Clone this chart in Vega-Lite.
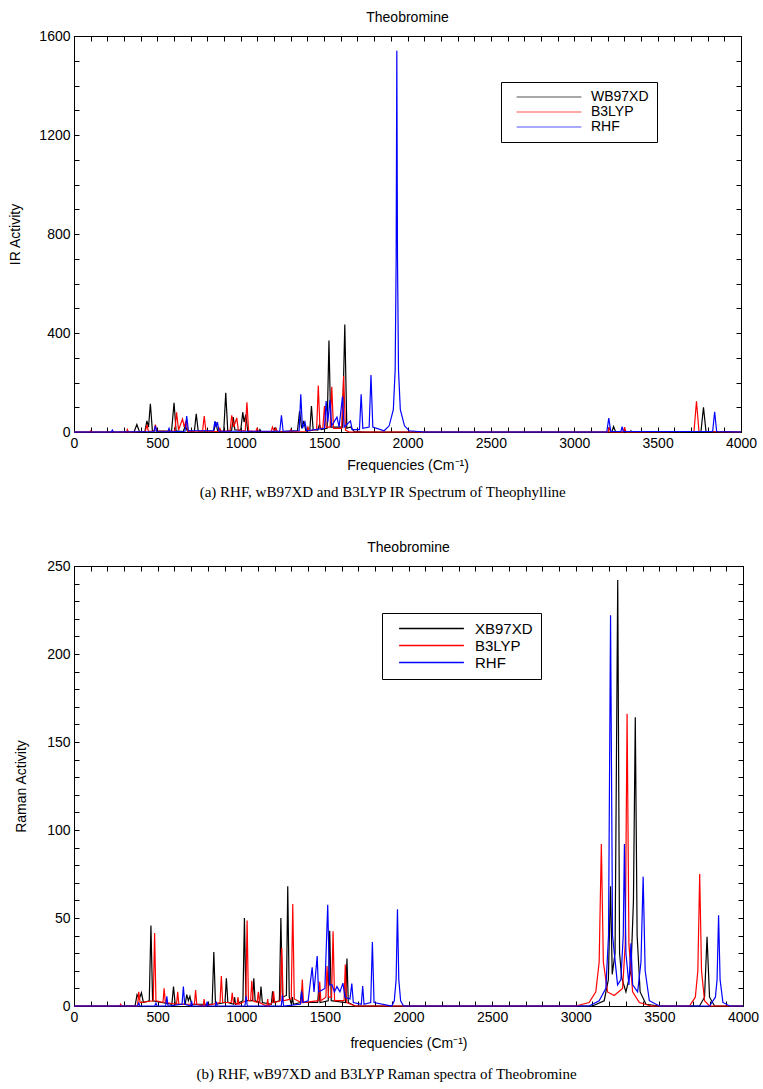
{
  "$schema": "https://vega.github.io/schema/vega-lite/v6.json",
  "padding": {"top": 10, "left": 8, "right": 5, "bottom": 5},
  "spacing": 40,
  "resolve": {"scale": {"color": "independent"}, "legend": {"color": "independent"}},
  "config": {
    "font": "Liberation Sans",
    "view": {"stroke": "black", "strokeWidth": 1},
    "axis": {"grid": false, "domainColor": "black", "tickColor": "black", "labelColor": "black", "titleColor": "black", "labelFontSize": 14, "titleFontSize": 14, "titleFontWeight": "normal", "labelFont": "Liberation Sans", "titleFont": "Liberation Sans", "tickSize": -5, "labelPadding": 9, "labelOverlap": false, "labelFlush": false, "format": "d"},
    "title": {"font": "Liberation Sans", "fontSize": 14, "fontWeight": "normal", "color": "black"},
    "legend": {"titleFontSize": 0}
  },
  "datasets": {
    "ir": [
      {"s":"WB97XD","f":0,"v":0},{"s":"WB97XD","f":360,"v":0},{"s":"WB97XD","f":377,"v":30},{"s":"WB97XD","f":392,"v":2},{"s":"WB97XD","f":425,"v":2},{"s":"WB97XD","f":437,"v":45},{"s":"WB97XD","f":447,"v":20},{"s":"WB97XD","f":458,"v":114},{"s":"WB97XD","f":470,"v":5},{"s":"WB97XD","f":585,"v":3},{"s":"WB97XD","f":600,"v":118},{"s":"WB97XD","f":612,"v":5},{"s":"WB97XD","f":655,"v":2},{"s":"WB97XD","f":668,"v":25},{"s":"WB97XD","f":680,"v":3},{"s":"WB97XD","f":722,"v":3},{"s":"WB97XD","f":733,"v":73},{"s":"WB97XD","f":745,"v":3},{"s":"WB97XD","f":838,"v":3},{"s":"WB97XD","f":850,"v":40},{"s":"WB97XD","f":862,"v":3},{"s":"WB97XD","f":898,"v":3},{"s":"WB97XD","f":910,"v":158},{"s":"WB97XD","f":922,"v":5},{"s":"WB97XD","f":945,"v":5},{"s":"WB97XD","f":955,"v":60},{"s":"WB97XD","f":965,"v":8},{"s":"WB97XD","f":1000,"v":8},{"s":"WB97XD","f":1012,"v":80},{"s":"WB97XD","f":1020,"v":40},{"s":"WB97XD","f":1030,"v":70},{"s":"WB97XD","f":1042,"v":3},{"s":"WB97XD","f":1108,"v":1},{"s":"WB97XD","f":1115,"v":10},{"s":"WB97XD","f":1122,"v":1},{"s":"WB97XD","f":1202,"v":1},{"s":"WB97XD","f":1210,"v":15},{"s":"WB97XD","f":1218,"v":1},{"s":"WB97XD","f":1340,"v":5},{"s":"WB97XD","f":1353,"v":85},{"s":"WB97XD","f":1365,"v":15},{"s":"WB97XD","f":1378,"v":45},{"s":"WB97XD","f":1390,"v":5},{"s":"WB97XD","f":1414,"v":5},{"s":"WB97XD","f":1424,"v":105},{"s":"WB97XD","f":1434,"v":10},{"s":"WB97XD","f":1462,"v":8},{"s":"WB97XD","f":1472,"v":30},{"s":"WB97XD","f":1482,"v":10},{"s":"WB97XD","f":1518,"v":15},{"s":"WB97XD","f":1529,"v":370},{"s":"WB97XD","f":1540,"v":20},{"s":"WB97XD","f":1610,"v":20},{"s":"WB97XD","f":1624,"v":434},{"s":"WB97XD","f":1636,"v":15},{"s":"WB97XD","f":1660,"v":20},{"s":"WB97XD","f":1680,"v":2},{"s":"WB97XD","f":1750,"v":0},{"s":"WB97XD","f":3225,"v":0},{"s":"WB97XD","f":3236,"v":22},{"s":"WB97XD","f":3248,"v":0},{"s":"WB97XD","f":3335,"v":0},{"s":"WB97XD","f":3340,"v":5},{"s":"WB97XD","f":3345,"v":0},{"s":"WB97XD","f":3760,"v":2},{"s":"WB97XD","f":3775,"v":100},{"s":"WB97XD","f":3790,"v":2},{"s":"WB97XD","f":4000,"v":0},
      {"s":"B3LYP","f":0,"v":0},{"s":"B3LYP","f":95,"v":0},{"s":"B3LYP","f":100,"v":5},{"s":"B3LYP","f":105,"v":0},{"s":"B3LYP","f":315,"v":0},{"s":"B3LYP","f":320,"v":10},{"s":"B3LYP","f":326,"v":0},{"s":"B3LYP","f":428,"v":2},{"s":"B3LYP","f":437,"v":30},{"s":"B3LYP","f":446,"v":3},{"s":"B3LYP","f":480,"v":3},{"s":"B3LYP","f":488,"v":30},{"s":"B3LYP","f":496,"v":3},{"s":"B3LYP","f":605,"v":3},{"s":"B3LYP","f":615,"v":80},{"s":"B3LYP","f":627,"v":8},{"s":"B3LYP","f":651,"v":53},{"s":"B3LYP","f":661,"v":20},{"s":"B3LYP","f":671,"v":45},{"s":"B3LYP","f":683,"v":3},{"s":"B3LYP","f":771,"v":3},{"s":"B3LYP","f":781,"v":64},{"s":"B3LYP","f":791,"v":3},{"s":"B3LYP","f":868,"v":2},{"s":"B3LYP","f":875,"v":15},{"s":"B3LYP","f":882,"v":2},{"s":"B3LYP","f":936,"v":5},{"s":"B3LYP","f":946,"v":67},{"s":"B3LYP","f":958,"v":20},{"s":"B3LYP","f":976,"v":57},{"s":"B3LYP","f":986,"v":5},{"s":"B3LYP","f":1027,"v":5},{"s":"B3LYP","f":1037,"v":120},{"s":"B3LYP","f":1047,"v":5},{"s":"B3LYP","f":1090,"v":2},{"s":"B3LYP","f":1098,"v":15},{"s":"B3LYP","f":1106,"v":2},{"s":"B3LYP","f":1183,"v":2},{"s":"B3LYP","f":1190,"v":20},{"s":"B3LYP","f":1200,"v":5},{"s":"B3LYP","f":1210,"v":15},{"s":"B3LYP","f":1218,"v":2},{"s":"B3LYP","f":1293,"v":1},{"s":"B3LYP","f":1300,"v":10},{"s":"B3LYP","f":1307,"v":1},{"s":"B3LYP","f":1395,"v":2},{"s":"B3LYP","f":1403,"v":20},{"s":"B3LYP","f":1411,"v":5},{"s":"B3LYP","f":1455,"v":10},{"s":"B3LYP","f":1465,"v":188},{"s":"B3LYP","f":1475,"v":15},{"s":"B3LYP","f":1492,"v":15},{"s":"B3LYP","f":1502,"v":105},{"s":"B3LYP","f":1512,"v":20},{"s":"B3LYP","f":1536,"v":20},{"s":"B3LYP","f":1546,"v":183},{"s":"B3LYP","f":1556,"v":15},{"s":"B3LYP","f":1605,"v":15},{"s":"B3LYP","f":1617,"v":226},{"s":"B3LYP","f":1628,"v":8},{"s":"B3LYP","f":1650,"v":0},{"s":"B3LYP","f":3203,"v":0},{"s":"B3LYP","f":3210,"v":20},{"s":"B3LYP","f":3217,"v":0},{"s":"B3LYP","f":3295,"v":0},{"s":"B3LYP","f":3302,"v":20},{"s":"B3LYP","f":3309,"v":0},{"s":"B3LYP","f":3718,"v":2},{"s":"B3LYP","f":3733,"v":124},{"s":"B3LYP","f":3748,"v":2},{"s":"B3LYP","f":4000,"v":0},
      {"s":"RHF","f":0,"v":0},{"s":"RHF","f":224,"v":0},{"s":"RHF","f":230,"v":8},{"s":"RHF","f":236,"v":0},{"s":"RHF","f":480,"v":2},{"s":"RHF","f":488,"v":25},{"s":"RHF","f":496,"v":2},{"s":"RHF","f":563,"v":1},{"s":"RHF","f":570,"v":15},{"s":"RHF","f":577,"v":1},{"s":"RHF","f":666,"v":3},{"s":"RHF","f":676,"v":64},{"s":"RHF","f":686,"v":5},{"s":"RHF","f":836,"v":5},{"s":"RHF","f":845,"v":44},{"s":"RHF","f":852,"v":20},{"s":"RHF","f":860,"v":40},{"s":"RHF","f":870,"v":3},{"s":"RHF","f":1234,"v":3},{"s":"RHF","f":1244,"v":67},{"s":"RHF","f":1254,"v":3},{"s":"RHF","f":1350,"v":5},{"s":"RHF","f":1360,"v":152},{"s":"RHF","f":1370,"v":15},{"s":"RHF","f":1385,"v":40},{"s":"RHF","f":1395,"v":5},{"s":"RHF","f":1502,"v":15},{"s":"RHF","f":1512,"v":125},{"s":"RHF","f":1522,"v":40},{"s":"RHF","f":1535,"v":130},{"s":"RHF","f":1545,"v":25},{"s":"RHF","f":1577,"v":60},{"s":"RHF","f":1590,"v":20},{"s":"RHF","f":1610,"v":143},{"s":"RHF","f":1620,"v":20},{"s":"RHF","f":1658,"v":45},{"s":"RHF","f":1668,"v":10},{"s":"RHF","f":1712,"v":10},{"s":"RHF","f":1722,"v":152},{"s":"RHF","f":1732,"v":15},{"s":"RHF","f":1770,"v":20},{"s":"RHF","f":1781,"v":230},{"s":"RHF","f":1792,"v":20},{"s":"RHF","f":1860,"v":5},{"s":"RHF","f":1890,"v":25},{"s":"RHF","f":1915,"v":90},{"s":"RHF","f":1926,"v":250},{"s":"RHF","f":1932,"v":700},{"s":"RHF","f":1936,"v":1540},{"s":"RHF","f":1940,"v":700},{"s":"RHF","f":1946,"v":250},{"s":"RHF","f":1957,"v":90},{"s":"RHF","f":1982,"v":25},{"s":"RHF","f":2010,"v":5},{"s":"RHF","f":2100,"v":0},{"s":"RHF","f":3195,"v":0},{"s":"RHF","f":3207,"v":56},{"s":"RHF","f":3219,"v":2},{"s":"RHF","f":3280,"v":2},{"s":"RHF","f":3287,"v":22},{"s":"RHF","f":3294,"v":2},{"s":"RHF","f":3830,"v":2},{"s":"RHF","f":3842,"v":82},{"s":"RHF","f":3854,"v":2},{"s":"RHF","f":4000,"v":0}
    ],
    "raman": [
      {"s":"XB97XD","f":0,"v":0},{"s":"XB97XD","f":365,"v":0},{"s":"XB97XD","f":377,"v":6.5},{"s":"XB97XD","f":390,"v":4},{"s":"XB97XD","f":403,"v":7.5},{"s":"XB97XD","f":415,"v":2},{"s":"XB97XD","f":450,"v":3},{"s":"XB97XD","f":460,"v":45.7},{"s":"XB97XD","f":470,"v":3},{"s":"XB97XD","f":585,"v":1},{"s":"XB97XD","f":595,"v":11},{"s":"XB97XD","f":605,"v":1},{"s":"XB97XD","f":665,"v":1},{"s":"XB97XD","f":674,"v":6.5},{"s":"XB97XD","f":684,"v":3},{"s":"XB97XD","f":693,"v":5.5},{"s":"XB97XD","f":703,"v":1},{"s":"XB97XD","f":826,"v":1},{"s":"XB97XD","f":836,"v":30.6},{"s":"XB97XD","f":846,"v":1},{"s":"XB97XD","f":903,"v":2},{"s":"XB97XD","f":911,"v":15.7},{"s":"XB97XD","f":920,"v":2},{"s":"XB97XD","f":955,"v":1},{"s":"XB97XD","f":960,"v":5},{"s":"XB97XD","f":966,"v":1},{"s":"XB97XD","f":1010,"v":3},{"s":"XB97XD","f":1019,"v":50},{"s":"XB97XD","f":1028,"v":3},{"s":"XB97XD","f":1067,"v":3},{"s":"XB97XD","f":1075,"v":15.7},{"s":"XB97XD","f":1083,"v":3},{"s":"XB97XD","f":1110,"v":2},{"s":"XB97XD","f":1118,"v":11},{"s":"XB97XD","f":1126,"v":2},{"s":"XB97XD","f":1180,"v":1},{"s":"XB97XD","f":1187,"v":8.4},{"s":"XB97XD","f":1195,"v":2},{"s":"XB97XD","f":1228,"v":3},{"s":"XB97XD","f":1237,"v":50},{"s":"XB97XD","f":1246,"v":5},{"s":"XB97XD","f":1270,"v":6},{"s":"XB97XD","f":1278,"v":68},{"s":"XB97XD","f":1287,"v":5},{"s":"XB97XD","f":1300,"v":1},{"s":"XB97XD","f":1306,"v":5},{"s":"XB97XD","f":1312,"v":1},{"s":"XB97XD","f":1354,"v":2},{"s":"XB97XD","f":1361,"v":9.4},{"s":"XB97XD","f":1368,"v":2},{"s":"XB97XD","f":1457,"v":2},{"s":"XB97XD","f":1464,"v":11},{"s":"XB97XD","f":1471,"v":2},{"s":"XB97XD","f":1520,"v":3},{"s":"XB97XD","f":1529,"v":42.7},{"s":"XB97XD","f":1538,"v":3},{"s":"XB97XD","f":1624,"v":2},{"s":"XB97XD","f":1632,"v":27},{"s":"XB97XD","f":1640,"v":2},{"s":"XB97XD","f":1680,"v":0},{"s":"XB97XD","f":3100,"v":0},{"s":"XB97XD","f":3170,"v":3},{"s":"XB97XD","f":3195,"v":15},{"s":"XB97XD","f":3208,"v":68},{"s":"XB97XD","f":3218,"v":18},{"s":"XB97XD","f":3235,"v":30},{"s":"XB97XD","f":3251,"v":242},{"s":"XB97XD","f":3262,"v":30},{"s":"XB97XD","f":3275,"v":16},{"s":"XB97XD","f":3300,"v":8},{"s":"XB97XD","f":3330,"v":20},{"s":"XB97XD","f":3345,"v":60},{"s":"XB97XD","f":3356,"v":164},{"s":"XB97XD","f":3367,"v":40},{"s":"XB97XD","f":3385,"v":8},{"s":"XB97XD","f":3420,"v":1},{"s":"XB97XD","f":3500,"v":0},{"s":"XB97XD","f":3740,"v":0},{"s":"XB97XD","f":3770,"v":5},{"s":"XB97XD","f":3785,"v":39.4},{"s":"XB97XD","f":3800,"v":5},{"s":"XB97XD","f":3830,"v":0},{"s":"XB97XD","f":4000,"v":0},
      {"s":"B3LYP","f":0,"v":0},{"s":"B3LYP","f":274,"v":0},{"s":"B3LYP","f":279,"v":1},{"s":"B3LYP","f":284,"v":0},{"s":"B3LYP","f":380,"v":0},{"s":"B3LYP","f":387,"v":8},{"s":"B3LYP","f":395,"v":2},{"s":"B3LYP","f":474,"v":3},{"s":"B3LYP","f":482,"v":41.4},{"s":"B3LYP","f":490,"v":3},{"s":"B3LYP","f":532,"v":2},{"s":"B3LYP","f":539,"v":10},{"s":"B3LYP","f":546,"v":2},{"s":"B3LYP","f":613,"v":1},{"s":"B3LYP","f":620,"v":8},{"s":"B3LYP","f":627,"v":1},{"s":"B3LYP","f":720,"v":1},{"s":"B3LYP","f":727,"v":9},{"s":"B3LYP","f":734,"v":1},{"s":"B3LYP","f":773,"v":0},{"s":"B3LYP","f":778,"v":4},{"s":"B3LYP","f":783,"v":0},{"s":"B3LYP","f":873,"v":2},{"s":"B3LYP","f":881,"v":17},{"s":"B3LYP","f":889,"v":2},{"s":"B3LYP","f":940,"v":2},{"s":"B3LYP","f":946,"v":7.5},{"s":"B3LYP","f":953,"v":2},{"s":"B3LYP","f":975,"v":1},{"s":"B3LYP","f":980,"v":5},{"s":"B3LYP","f":986,"v":1},{"s":"B3LYP","f":1027,"v":3},{"s":"B3LYP","f":1035,"v":48.6},{"s":"B3LYP","f":1043,"v":3},{"s":"B3LYP","f":1056,"v":3},{"s":"B3LYP","f":1063,"v":14.3},{"s":"B3LYP","f":1070,"v":3},{"s":"B3LYP","f":1095,"v":2},{"s":"B3LYP","f":1102,"v":8},{"s":"B3LYP","f":1109,"v":2},{"s":"B3LYP","f":1153,"v":0},{"s":"B3LYP","f":1158,"v":4},{"s":"B3LYP","f":1163,"v":0},{"s":"B3LYP","f":1186,"v":2},{"s":"B3LYP","f":1193,"v":8.4},{"s":"B3LYP","f":1200,"v":2},{"s":"B3LYP","f":1233,"v":3},{"s":"B3LYP","f":1242,"v":33},{"s":"B3LYP","f":1251,"v":3},{"s":"B3LYP","f":1299,"v":4},{"s":"B3LYP","f":1308,"v":58},{"s":"B3LYP","f":1317,"v":4},{"s":"B3LYP","f":1358,"v":2},{"s":"B3LYP","f":1365,"v":15},{"s":"B3LYP","f":1372,"v":2},{"s":"B3LYP","f":1462,"v":3},{"s":"B3LYP","f":1469,"v":13.7},{"s":"B3LYP","f":1476,"v":3},{"s":"B3LYP","f":1506,"v":5},{"s":"B3LYP","f":1513,"v":22.7},{"s":"B3LYP","f":1522,"v":5},{"s":"B3LYP","f":1540,"v":5},{"s":"B3LYP","f":1549,"v":42.4},{"s":"B3LYP","f":1558,"v":3},{"s":"B3LYP","f":1615,"v":3},{"s":"B3LYP","f":1622,"v":23.5},{"s":"B3LYP","f":1630,"v":2},{"s":"B3LYP","f":1680,"v":0},{"s":"B3LYP","f":3000,"v":0},{"s":"B3LYP","f":3080,"v":2},{"s":"B3LYP","f":3120,"v":8},{"s":"B3LYP","f":3140,"v":25},{"s":"B3LYP","f":3153,"v":92},{"s":"B3LYP","f":3165,"v":25},{"s":"B3LYP","f":3190,"v":8},{"s":"B3LYP","f":3230,"v":6},{"s":"B3LYP","f":3280,"v":10},{"s":"B3LYP","f":3296,"v":35},{"s":"B3LYP","f":3307,"v":166},{"s":"B3LYP","f":3318,"v":35},{"s":"B3LYP","f":3340,"v":8},{"s":"B3LYP","f":3380,"v":2},{"s":"B3LYP","f":3450,"v":0},{"s":"B3LYP","f":3680,"v":0},{"s":"B3LYP","f":3715,"v":5},{"s":"B3LYP","f":3730,"v":20},{"s":"B3LYP","f":3741,"v":75},{"s":"B3LYP","f":3752,"v":20},{"s":"B3LYP","f":3770,"v":3},{"s":"B3LYP","f":3800,"v":0},{"s":"B3LYP","f":4000,"v":0},
      {"s":"RHF","f":0,"v":0},{"s":"RHF","f":380,"v":0},{"s":"RHF","f":387,"v":1.6},{"s":"RHF","f":394,"v":0},{"s":"RHF","f":483,"v":0},{"s":"RHF","f":490,"v":1.6},{"s":"RHF","f":497,"v":0},{"s":"RHF","f":548,"v":0},{"s":"RHF","f":555,"v":5.5},{"s":"RHF","f":562,"v":0},{"s":"RHF","f":646,"v":1},{"s":"RHF","f":654,"v":11},{"s":"RHF","f":662,"v":1},{"s":"RHF","f":698,"v":0},{"s":"RHF","f":703,"v":3},{"s":"RHF","f":708,"v":0},{"s":"RHF","f":791,"v":0},{"s":"RHF","f":796,"v":2.5},{"s":"RHF","f":801,"v":0},{"s":"RHF","f":846,"v":0},{"s":"RHF","f":851,"v":2.5},{"s":"RHF","f":856,"v":0},{"s":"RHF","f":1022,"v":0},{"s":"RHF","f":1029,"v":5.5},{"s":"RHF","f":1036,"v":0},{"s":"RHF","f":1239,"v":0},{"s":"RHF","f":1246,"v":6},{"s":"RHF","f":1253,"v":0},{"s":"RHF","f":1354,"v":1},{"s":"RHF","f":1361,"v":8.4},{"s":"RHF","f":1368,"v":2},{"s":"RHF","f":1400,"v":3},{"s":"RHF","f":1424,"v":22},{"s":"RHF","f":1435,"v":8},{"s":"RHF","f":1454,"v":28.4},{"s":"RHF","f":1462,"v":8},{"s":"RHF","f":1500,"v":10},{"s":"RHF","f":1517,"v":57.5},{"s":"RHF","f":1528,"v":12},{"s":"RHF","f":1543,"v":12},{"s":"RHF","f":1557,"v":8},{"s":"RHF","f":1572,"v":11},{"s":"RHF","f":1590,"v":8},{"s":"RHF","f":1608,"v":13},{"s":"RHF","f":1620,"v":5},{"s":"RHF","f":1650,"v":4},{"s":"RHF","f":1661,"v":12.7},{"s":"RHF","f":1670,"v":2},{"s":"RHF","f":1718,"v":1},{"s":"RHF","f":1726,"v":11.4},{"s":"RHF","f":1734,"v":1},{"s":"RHF","f":1774,"v":2},{"s":"RHF","f":1784,"v":36.3},{"s":"RHF","f":1794,"v":2},{"s":"RHF","f":1900,"v":0},{"s":"RHF","f":1915,"v":3},{"s":"RHF","f":1926,"v":15},{"s":"RHF","f":1934,"v":55},{"s":"RHF","f":1942,"v":15},{"s":"RHF","f":1953,"v":3},{"s":"RHF","f":1970,"v":0},{"s":"RHF","f":3080,"v":0},{"s":"RHF","f":3140,"v":3},{"s":"RHF","f":3180,"v":10},{"s":"RHF","f":3196,"v":40},{"s":"RHF","f":3208,"v":222},{"s":"RHF","f":3220,"v":40},{"s":"RHF","f":3250,"v":12},{"s":"RHF","f":3270,"v":15},{"s":"RHF","f":3284,"v":40},{"s":"RHF","f":3291,"v":92},{"s":"RHF","f":3300,"v":30},{"s":"RHF","f":3318,"v":12},{"s":"RHF","f":3330,"v":35.6},{"s":"RHF","f":3340,"v":12},{"s":"RHF","f":3370,"v":8},{"s":"RHF","f":3390,"v":25},{"s":"RHF","f":3403,"v":73.5},{"s":"RHF","f":3415,"v":20},{"s":"RHF","f":3440,"v":3},{"s":"RHF","f":3500,"v":0},{"s":"RHF","f":3800,"v":0},{"s":"RHF","f":3835,"v":5},{"s":"RHF","f":3845,"v":15},{"s":"RHF","f":3854,"v":51.5},{"s":"RHF","f":3863,"v":15},{"s":"RHF","f":3880,"v":2},{"s":"RHF","f":3920,"v":0},{"s":"RHF","f":4000,"v":0}
    ]
  },
  "vconcat": [
    {
      "title": {"text": "(a) RHF, wB97XD and B3LYP IR Spectrum of Theophylline", "orient": "bottom", "anchor": "middle", "font": "Liberation Serif", "fontSize": 15, "offset": 12},
      "vconcat": [
        {
          "title": {"text": "Theobromine", "offset": 4},
          "width": 667,
          "height": 396,
          "data": {"name": "ir"},
          "layer": [
            {
              "mark": {"type": "line", "strokeWidth": 1.2},
              "encoding": {
                "x": {"field": "f", "type": "quantitative", "scale": {"domain": [0, 4000], "nice": false},
                  "axis": {"orient": "bottom", "values": [0,100,200,300,400,500,600,700,800,900,1000,1100,1200,1300,1400,1500,1600,1700,1800,1900,2000,2100,2200,2300,2400,2500,2600,2700,2800,2900,3000,3100,3200,3300,3400,3500,3600,3700,3800,3900,4000], "labelExpr": "datum.value % 500 === 0 ? datum.label : ''", "title": "Frequencies (Cm⁻¹)", "titlePadding": 8}},
                "y": {"field": "v", "type": "quantitative", "scale": {"domain": [0, 1600], "nice": false},
                  "axis": {"orient": "left", "values": [0,100,200,300,400,500,600,700,800,900,1000,1100,1200,1300,1400,1500,1600], "labelExpr": "datum.value % 400 === 0 ? datum.label : ''", "title": "IR Activity", "titlePadding": 16}},
                "color": {"field": "s", "type": "nominal", "sort": ["WB97XD", "B3LYP", "RHF"],
                  "scale": {"domain": ["WB97XD", "B3LYP", "RHF"], "range": ["#000000", "#ff0000", "#0000ff"]},
                  "legend": {"orient": "none", "legendX": 427, "legendY": 46, "title": null, "strokeColor": "black", "fillColor": "white", "padding": 8, "symbolType": "M-5.4,0H5.4", "symbolSize": 144, "symbolStrokeWidth": 1.3, "symbolOffset": 33, "labelOffset": 35, "labelFontSize": 14, "labelColor": "black", "rowPadding": 1, "symbolOpacity": 0.45, "labelExpr": "datum.label + '      '"}}
              }
            },
            {
              "mark": {"type": "line", "opacity": 0},
              "encoding": {
                "x": {"field": "f", "type": "quantitative", "axis": {"orient": "top", "values": [0,100,200,300,400,500,600,700,800,900,1000,1100,1200,1300,1400,1500,1600,1700,1800,1900,2000,2100,2200,2300,2400,2500,2600,2700,2800,2900,3000,3100,3200,3300,3400,3500,3600,3700,3800,3900,4000], "labels": false, "title": null, "domain": false}},
                "y": {"field": "v", "type": "quantitative", "axis": {"orient": "right", "values": [0,100,200,300,400,500,600,700,800,900,1000,1100,1200,1300,1400,1500,1600], "labels": false, "title": null, "domain": false}}
              }
            }
          ],
          "resolve": {"axis": {"x": "independent", "y": "independent"}}
        }
      ]
    },
    {
      "title": {"text": "(b) RHF, wB97XD and B3LYP Raman spectra of Theobromine", "orient": "bottom", "anchor": "middle", "font": "Liberation Serif", "fontSize": 15, "offset": 16},
      "vconcat": [
        {
          "title": {"text": "Theobromine", "offset": 4},
          "width": 669,
          "height": 440,
          "data": {"name": "raman"},
          "layer": [
            {
              "mark": {"type": "line", "strokeWidth": 1.2},
              "encoding": {
                "x": {"field": "f", "type": "quantitative", "scale": {"domain": [0, 4000], "nice": false},
                  "axis": {"orient": "bottom", "values": [0,100,200,300,400,500,600,700,800,900,1000,1100,1200,1300,1400,1500,1600,1700,1800,1900,2000,2100,2200,2300,2400,2500,2600,2700,2800,2900,3000,3100,3200,3300,3400,3500,3600,3700,3800,3900,4000], "labelExpr": "datum.value % 500 === 0 ? datum.label : ''", "title": "frequencies (Cm⁻¹)", "titlePadding": 12}},
                "y": {"field": "v", "type": "quantitative", "scale": {"domain": [0, 250], "nice": false},
                  "axis": {"orient": "left", "values": [0,10,20,30,40,50,60,70,80,90,100,110,120,130,140,150,160,170,180,190,200,210,220,230,240,250], "labelExpr": "datum.value % 50 === 0 ? datum.label : ''", "title": "Raman Activity", "titlePadding": 18}},
                "color": {"field": "s", "type": "nominal", "sort": ["XB97XD", "B3LYP", "RHF"],
                  "scale": {"domain": ["XB97XD", "B3LYP", "RHF"], "range": ["#000000", "#ff0000", "#0000ff"]},
                  "legend": {"orient": "none", "legendX": 308, "legendY": 47, "title": null, "strokeColor": "black", "fillColor": "white", "padding": 8, "symbolType": "M-5.4,0H5.4", "symbolSize": 144, "symbolStrokeWidth": 1.3, "symbolOffset": 34, "labelOffset": 36, "labelFontSize": 15, "labelColor": "black", "rowPadding": 1, "labelExpr": "datum.label + '      '"}}
              }
            },
            {
              "mark": {"type": "line", "opacity": 0},
              "encoding": {
                "x": {"field": "f", "type": "quantitative", "axis": {"orient": "top", "values": [0,100,200,300,400,500,600,700,800,900,1000,1100,1200,1300,1400,1500,1600,1700,1800,1900,2000,2100,2200,2300,2400,2500,2600,2700,2800,2900,3000,3100,3200,3300,3400,3500,3600,3700,3800,3900,4000], "labels": false, "title": null, "domain": false}},
                "y": {"field": "v", "type": "quantitative", "axis": {"orient": "right", "values": [0,10,20,30,40,50,60,70,80,90,100,110,120,130,140,150,160,170,180,190,200,210,220,230,240,250], "labels": false, "title": null, "domain": false}}
              }
            }
          ],
          "resolve": {"axis": {"x": "independent", "y": "independent"}}
        }
      ]
    }
  ]
}
